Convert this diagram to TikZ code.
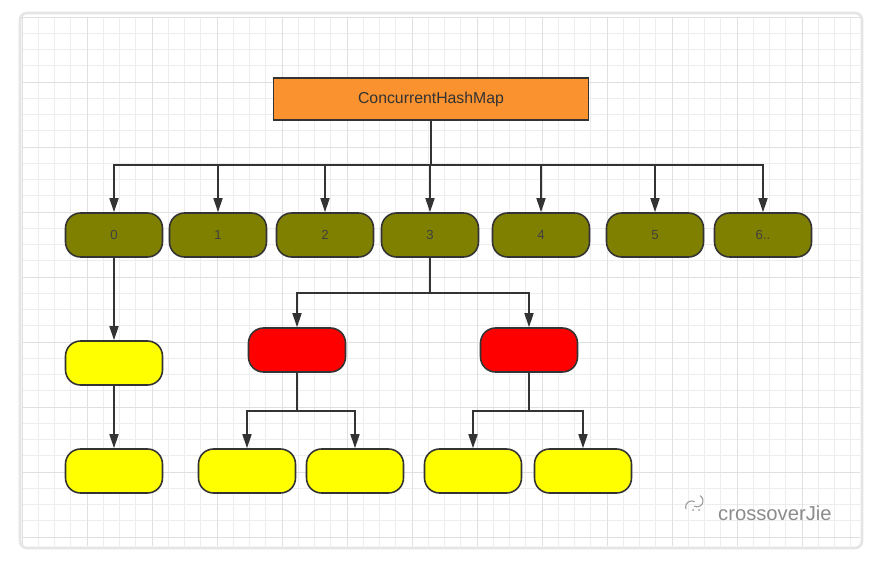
\documentclass[tikz,border=0pt]{standalone}
\usepackage{fontspec}
\setmainfont{Liberation Sans}
\usetikzlibrary{arrows.meta}
\definecolor{maporange}{HTML}{F9922F}
\definecolor{bucketolive}{HTML}{808000}
\definecolor{nodered}{HTML}{FF0000}
\definecolor{nodeyellow}{HTML}{FFFF00}
\definecolor{gridline}{HTML}{EDEDED}
\definecolor{gridmajor}{HTML}{E0E0E0}

\begin{document}
\begin{tikzpicture}[x=0.02cm,y=-0.02cm,
  box/.style={draw=black!80,line width=0.9pt,rounded corners=0.3cm,minimum width=1.94cm,
    minimum height=0.88cm,inner sep=0pt,text=black!75,font=\fontsize{7.5}{9}\selectfont},
  bucket/.style={box,fill=bucketolive},
  redbox/.style={box,fill=nodered},
  leaf/.style={box,fill=nodeyellow},
  arr/.style={-{Triangle[length=0.28cm,width=0.18cm]},line width=0.9pt,draw=black!80}]

% background, grid and frame
\fill[white] (0,0) rectangle (874,564);
\foreach \i in {0,...,51} \draw[gridline,line width=0.4pt] ({22+16.25*\i},17) -- ({22+16.25*\i},546);
\foreach \j in {0,...,32} \draw[gridline,line width=0.4pt] (22,{17+16.25*\j}) -- (860,{17+16.25*\j});
\foreach \i in {0,...,12} \draw[gridmajor,line width=0.5pt] ({22+65*\i},17) -- ({22+65*\i},546);
\foreach \j in {0,...,8} \draw[gridmajor,line width=0.5pt] (22,{17+65*\j}) -- (860,{17+65*\j});
\draw[black!10,line width=1.5pt,rounded corners=4pt] (20,13) rectangle (862,548);

% map
\node[draw=black!80,line width=0.9pt,fill=maporange,minimum width=6.3cm,minimum height=0.84cm,
  inner sep=0pt,text=black!80,font=\fontsize{9}{11}\selectfont] (map) at (431,99) {ConcurrentHashMap};

% buckets
\node[bucket] (b0) at (114,235) {0};
\node[bucket] (b1) at (218,235) {1};
\node[bucket] (b2) at (325,235) {2};
\node[bucket] (b3) at (430,235) {3};
\node[bucket] (b4) at (541,235) {4};
\node[bucket] (b5) at (655,235) {5};
\node[bucket] (b6) at (763,235) {6..};

\coordinate (mapbar) at (431,165);
\foreach \b in {b0,b1,b2,b3,b4,b5,b6}
  \draw[arr] (map.south) -- (mapbar) -| (\b.north);

% list under bucket 0
\node[leaf] (l1) at (114,363) {};
\node[leaf] (l2) at (114,471) {};
\draw[arr] (b0.south) -- (l1.north);
\draw[arr] (l1.south) -- (l2.north);

% tree under bucket 3
\node[redbox] (r1) at (297,350) {};
\node[redbox] (r2) at (529,350) {};
\coordinate (treebar) at (430,293);
\draw[arr] (b3.south) -- (treebar) -| (r1.north);
\draw[arr] (b3.south) -- (treebar) -| (r2.north);

\node[leaf] (t1) at (247,471) {};
\node[leaf] (t2) at (355,471) {};
\node[leaf] (t3) at (473,471) {};
\node[leaf] (t4) at (583,471) {};
\draw[arr] (r1.south) -- ++(0,38) -| (t1.north);
\draw[arr] (r1.south) -- ++(0,38) -| (t2.north);
\draw[arr] (r2.south) -- ++(0,38) -| (t3.north);
\draw[arr] (r2.south) -- ++(0,38) -| (t4.north);

% watermark
\draw[black!40,line width=0.6pt] (686,509) arc[start angle=160,end angle=300,radius=6];
\draw[black!40,line width=0.6pt] (694,506) arc[start angle=120,end angle=-60,radius=6];
\fill[black!40] (693,510) circle[radius=1] (699,510) circle[radius=1];
\node[text=black!45,font=\fontsize{11.5}{13}\selectfont,anchor=west] (mark) at (712,513) {crossoverJie};
\end{tikzpicture}
\end{document}
